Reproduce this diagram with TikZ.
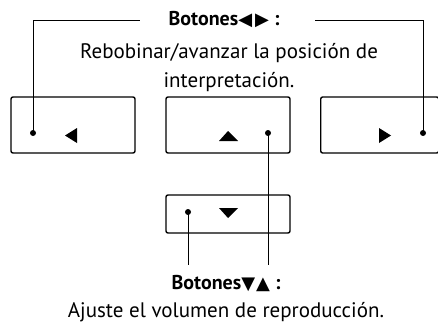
\documentclass[tikz,border=0pt]{standalone}
\usepackage{fontspec}
\setmainfont{PT Sans}
\newfontfamily\symfont{DejaVu Sans}
\begin{document}
\begin{tikzpicture}[x=1pt,y=-1pt,
  btn/.style={draw,line width=1.4pt,rounded corners=2pt,minimum width=124pt,minimum height=56pt,inner sep=0pt},
  lead/.style={line width=0.9pt},
  tip/.style={fill,circle,inner sep=0pt,minimum size=6pt},
  lbl/.style={font=\fontsize{21}{24}\selectfont,inner sep=0pt},
  ttl/.style={font=\fontsize{20}{24}\selectfont\bfseries,inner sep=0pt}]
\useasboundingbox (0,0) rectangle (438,326);
\node[btn] (bl) at (73,125) {};
\node[btn] (bm) at (228,125) {};
\node[btn,minimum width=118pt,anchor=west] (br) at (320,125) {};
\node[btn,minimum height=38pt] (bd) at (228,214) {};
% dots
\node[tip] (dl) at (33,133) {};
\node[tip] (dm) at (268,133) {};
\node[tip] (dr) at (423,133) {};
\node[tip] (dd) at (188,212) {};
% triangles
\fill (65,135.5) -- (77,128) -- (77,143) -- cycle;
\fill (219,141) -- (228,131) -- (238,141) -- cycle;
\fill (379,128) -- (391,135.5) -- (379,143) -- cycle;
\fill (219,208) -- (238,208) -- (228,218) -- cycle;
% labels
\node[ttl] (t1) at (224,20) {Botones{\symfont\fontsize{18}{24}\selectfont ◀\kern3pt▶}\ :};
\node[lbl] (t2) at (229,53) {Rebobinar/avanzar la posición de};
\node[lbl] (t3) at (229,82) {interpretación.};
\node[ttl] (b1) at (226,284) {Botones{\symfont\fontsize{18}{24}\selectfont ▼\kern1pt▲}\ :};
\node[lbl] (b2) at (226,312) {Ajuste el volumen de reproducción.};
% leaders
\coordinate (ctl) at (33,20);
\coordinate (ctr) at (423,20);
\coordinate (gl) at (140,20);
\coordinate (gr) at (315,20);
\draw[lead] (dl.center) -- (ctl) -- (gl);
\draw[lead] (dr.center) -- (ctr) -- (gr);
\coordinate (cb1) at (188,265);
\coordinate (cb2) at (268,265);
\draw[lead] (dd.center) -- (cb1);
\draw[lead] (dm.center) -- (cb2);
\end{tikzpicture}
\end{document}
